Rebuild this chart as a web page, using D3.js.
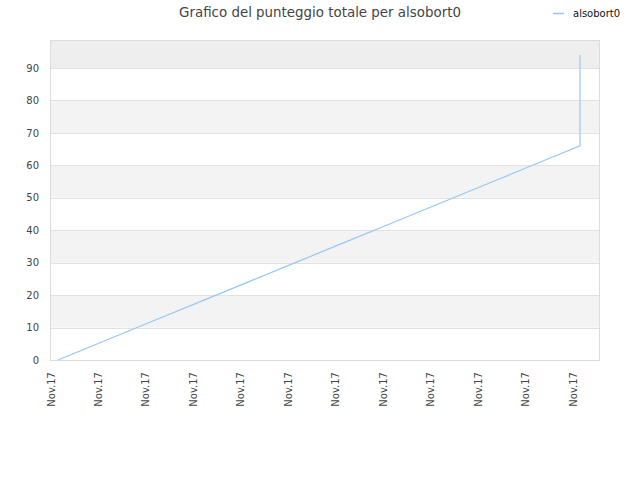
<!DOCTYPE html>
<html>
<head>
<meta charset="utf-8">
<title>Grafico</title>
<script src="https://cdn.jsdelivr.net/npm/d3@7"></script>
<style>
  body { margin: 0; background: #fff; }
  svg { display: block; font-family: "DejaVu Sans", sans-serif; }
</style>
</head>
<body>
<svg id="chart" width="640" height="480"></svg>
<script>
// data
var labels = ["Nov.17","Nov.17","Nov.17","Nov.17","Nov.17","Nov.17",
              "Nov.17","Nov.17","Nov.17","Nov.17","Nov.17","Nov.17"];
var pointIndex = [0, 1, 2, 3, 4, 5, 6, 7, 8, 9, 10, 11, 11];
var scores = [0, 6, 12, 18, 24, 30, 36, 42, 48, 54, 60, 66, 94];
var yTicks = [0, 10, 20, 30, 40, 50, 60, 70, 80, 90];
var seriesName = "alsobort0";

var svg = d3.select("#chart");
var plotLeft = 50, plotRight = 600, plotTop = 40, plotBottom = 360;
var lineColor = "#96c8f5";

var x = d3.scaleLinear().domain([0, labels.length - 1]).range([58, 580]);
var y = d3.scaleLinear().domain([0, 98.6]).range([plotBottom, plotTop]);

// bands, every other 10 units
var bands = d3.range(0, 100, 10);
svg.append("g").selectAll("rect").data(bands).enter()
  .append("rect")
  .attr("x", plotLeft)
  .attr("width", plotRight - plotLeft)
  .attr("y", function(d) { return Math.max(y(d + 10), plotTop); })
  .attr("height", function(d) { return y(d) - Math.max(y(d + 10), plotTop); })
  .attr("fill", function(d) {
    if ((d / 10) % 2 == 0) return "#ffffff";
    return d == 90 ? "#eeeeee" : "#f3f3f3";
  });

// grid lines
svg.append("g").selectAll("line").data(yTicks.slice(1)).enter()
  .append("line")
  .attr("x1", plotLeft).attr("x2", plotRight)
  .attr("y1", function(d) { return Math.round(y(d)) + 0.5; })
  .attr("y2", function(d) { return Math.round(y(d)) + 0.5; })
  .attr("stroke", "#e2e2e2");

// frame
svg.append("rect")
  .attr("x", plotLeft + 0.5).attr("y", plotTop + 0.5)
  .attr("width", plotRight - plotLeft - 1).attr("height", plotBottom - plotTop)
  .attr("fill", "none").attr("stroke", "#dcdcdc");

// y axis labels
var yAxis = d3.axisLeft(y).tickValues(yTicks).tickSize(0).tickPadding(11);
svg.append("g")
  .attr("transform", "translate(" + plotLeft + ",0)")
  .call(yAxis)
  .call(function(g) {
    g.select(".domain").remove();
    g.selectAll("text").attr("fill", "#444").style("font-size", "10px")
      .style("font-family", "DejaVu Sans, sans-serif");
  });

// x axis labels, rotated
svg.append("g").selectAll("text").data(labels).enter()
  .append("text")
  .attr("transform", function(d, i) { return "translate(" + (x(i) - 7) + ",372) rotate(-90)"; })
  .attr("dy", "0.35em")
  .attr("text-anchor", "end")
  .attr("fill", "#444")
  .style("font-size", "10px")
  .text(function(d) { return d; });

// the line
var line = d3.line()
  .x(function(d, i) { return x(pointIndex[i]); })
  .y(function(d) { return y(d); });
svg.append("path")
  .datum(scores)
  .attr("d", line)
  .attr("fill", "none")
  .attr("stroke", lineColor)
  .attr("stroke-width", 1.2);

// title
svg.append("text")
  .attr("x", 320).attr("y", 17)
  .attr("text-anchor", "middle")
  .attr("fill", "#444")
  .style("font-size", "13.4px")
  .text("Grafico del punteggio totale per " + seriesName);

// legend
svg.append("line")
  .attr("x1", 553).attr("x2", 564).attr("y1", 13.5).attr("y2", 13.5)
  .attr("stroke", lineColor).attr("stroke-width", 1.5);
svg.append("text")
  .attr("x", 573).attr("y", 13).attr("dy", "0.35em")
  .attr("fill", "#111")
  .style("font-size", "10px")
  .text(seriesName);
</script>
</body>
</html>
